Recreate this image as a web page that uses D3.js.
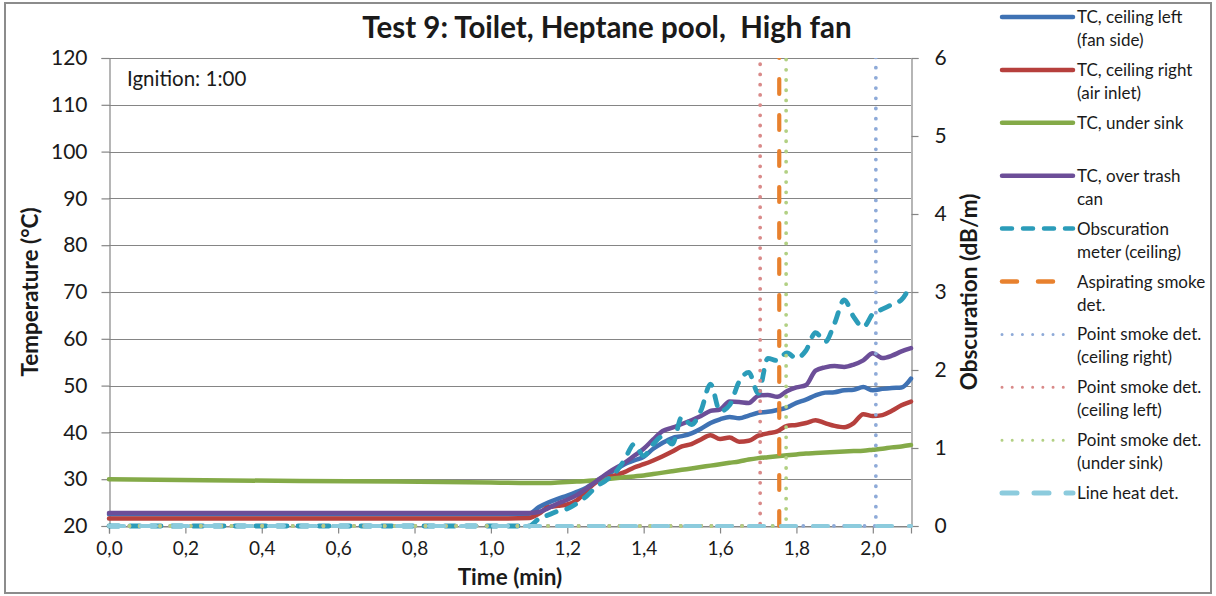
<!DOCTYPE html>
<html>
<head>
<meta charset="utf-8">
<script src="https://cdn.jsdelivr.net/npm/d3@7"></script>
<style>
  body { margin: 0; background: #ffffff; }
  text { font-family: Lato, "Open Sans", "DejaVu Sans", sans-serif; fill: #1a1a1a; }
</style>
</head>
<body>
<svg id="chart" width="1216" height="596"></svg>
<script>
// ---- Data -------------------------------------------------------------
const chartTitle = "Test 9: Toilet, Heptane pool,  High fan";
const ignitionNote = "Ignition: 1:00";

// time base (min) shared by the thermocouples and the obscuration meter
const timeMin = [0, 0.25, 0.5, 0.75, 1.0,
  1.1, 1.125, 1.15, 1.175, 1.2, 1.225, 1.25, 1.275, 1.3, 1.325,
  1.35, 1.375, 1.4, 1.425, 1.45, 1.475, 1.5, 1.525, 1.55, 1.575,
  1.6, 1.625, 1.65, 1.675, 1.7, 1.725, 1.75, 1.775, 1.8, 1.825,
  1.85, 1.875, 1.9, 1.925, 1.95, 1.975, 2.0, 2.025, 2.05, 2.075, 2.1];

// temperatures (°C)
const tcCeilingLeft = [22.5, 22.5, 22.5, 22.5, 22.5,
  22.6, 24.0, 25.0, 25.8, 26.5, 27.3, 28.2, 29.5, 30.8, 32.0,
  33.2, 34.0, 34.8, 36.5, 37.8, 38.8, 39.2, 39.8, 40.8, 42.0,
  42.8, 43.3, 43.0, 43.6, 44.2, 44.4, 44.8, 45.3, 46.3, 47.0,
  47.9, 48.5, 48.6, 49.0, 49.1, 49.7, 49.0, 49.3, 49.5, 49.6, 51.5];
const tcCeilingRight = [21.6, 21.6, 21.6, 21.6, 21.6,
  21.7, 22.6, 24.0, 24.3, 24.6, 25.5, 27.5, 29.3, 30.3, 30.8,
  31.5, 32.5, 33.2, 34.0, 34.9, 35.9, 37.0, 37.5, 38.5, 39.4,
  38.6, 38.9, 38.0, 38.2, 39.3, 39.8, 40.2, 41.4, 41.6, 42.0,
  42.6, 42.0, 41.4, 41.1, 42.0, 43.9, 43.5, 43.7, 44.6, 45.8, 46.6];
const tcUnderSink = [30.0, 29.8, 29.6, 29.5, 29.3,
  29.2, 29.2, 29.2, 29.3, 29.4, 29.5, 29.6, 29.8, 30.0, 30.2,
  30.4, 30.6, 30.8, 31.1, 31.4, 31.7, 32.0, 32.3, 32.6, 32.9,
  33.2, 33.5, 33.8, 34.2, 34.5, 34.7, 34.9, 35.1, 35.3, 35.5,
  35.6, 35.7, 35.8, 35.9, 36.0, 36.1, 36.3, 36.5, 36.8, 37.0, 37.3];
const tcOverTrash = [22.8, 22.8, 22.8, 22.8, 22.8,
  22.8, 23.0, 23.8, 24.8, 25.6, 26.6, 28.0, 29.5, 31.0, 32.3,
  33.5, 35.0, 36.5, 38.5, 40.3, 41.0, 41.8, 42.6, 43.5, 44.6,
  44.9, 46.6, 46.5, 46.3, 47.8, 48.0, 47.6, 48.8, 49.6, 50.1,
  53.2, 53.9, 54.2, 54.0, 54.5, 55.4, 56.9, 55.9, 56.4, 57.3, 58.0];

// obscuration (dB/m)
const obscurationCeiling = [0, 0, 0, 0, 0,
  0.0, 0.09, 0.14, 0.19, 0.22, 0.29, 0.38, 0.50, 0.58, 0.68,
  0.85, 1.05, 0.90, 1.05, 1.15, 1.05, 1.40, 1.30, 1.48, 1.82,
  1.47, 1.55, 1.85, 1.97, 1.70, 2.15, 2.12, 2.22, 2.15, 2.25,
  2.48, 2.36, 2.60, 2.90, 2.68, 2.55, 2.72, 2.78, 2.84, 2.90, 3.10];

// detector signals: 0 before alarm, off-scale after alarm
const aspiratingTime  = [1.755, 1.755, 2.1];
const aspiratingValue = [0, 8, 8];
const pointRightTime  = [0, 2.008, 2.008, 2.1];
const pointRightValue = [0, 0, 8, 8];
const pointLeftTime   = [0, 1.705, 1.705, 2.1];
const pointLeftValue  = [0, 0, 8, 8];
const pointSinkTime   = [0, 1.773, 1.773, 2.1];
const pointSinkValue  = [0, 0, 8, 8];
const lineHeatTime    = [0, 2.1];
const lineHeatValue   = [0, 0];

// axes
const timeTicks = [0, 0.2, 0.4, 0.6, 0.8, 1.0, 1.2, 1.4, 1.6, 1.8, 2.0];
const tempTicks = [20, 30, 40, 50, 60, 70, 80, 90, 100, 110, 120];
const obscTicks = [0, 1, 2, 3, 4, 5, 6];

// legend text, in legend order
const seriesLabels = [
  ["TC, ceiling left", "(fan side)"],
  ["TC, ceiling right", "(air inlet)"],
  ["TC, under sink", ""],
  ["TC, over trash", "can"],
  ["Obscuration", "meter (ceiling)"],
  ["Aspirating smoke", "det."],
  ["Point smoke det.", "(ceiling right)"],
  ["Point smoke det.", "(ceiling left)"],
  ["Point smoke det.", "(under sink)"],
  ["Line heat det.", ""]
];

// ---- Layout -----------------------------------------------------------
const plot = { left: 109, right: 911, top: 58, bottom: 526 };

const svg = d3.select("#chart");

const x = d3.scaleLinear().domain([0, 2.1]).range([plot.left, plot.right]);
const yT = d3.scaleLinear().domain([20, 120]).range([plot.bottom, plot.top]);
const yO = d3.scaleLinear().domain([0, 6]).range([plot.bottom, plot.top]);

const DOT = "0.01 10.2";
const styles = [
  { color: "#3f72b4", width: 4.5, dash: null, axis: "T", t: timeMin, v: tcCeilingLeft },
  { color: "#b6403d", width: 4.5, dash: null, axis: "T", t: timeMin, v: tcCeilingRight },
  { color: "#84aa48", width: 4.5, dash: null, axis: "T", t: timeMin, v: tcUnderSink },
  { color: "#6c4e98", width: 4.5, dash: null, axis: "T", t: timeMin, v: tcOverTrash },
  { color: "#2b9cb9", width: 4.8, dash: "10 11", axis: "O", t: timeMin, v: obscurationCeiling },
  { color: "#e8812e", width: 4.2, dash: "15 21", axis: "O", t: aspiratingTime, v: aspiratingValue },
  { color: "#8eaad8", width: 3.8, dash: DOT, axis: "O", t: pointRightTime, v: pointRightValue },
  { color: "#d98a89", width: 3.8, dash: DOT, axis: "O", t: pointLeftTime, v: pointLeftValue },
  { color: "#b2d083", width: 3.8, dash: DOT, axis: "O", t: pointSinkTime, v: pointSinkValue },
  { color: "#8ccbdd", width: 4.2, dash: "15 17", axis: "O", t: lineHeatTime, v: lineHeatValue }
];

// outer frame
svg.append("rect")
  .attr("x", 5).attr("y", 3).attr("width", 1206).attr("height", 590)
  .attr("fill", "#ffffff").attr("stroke", "#8c8c8c").attr("stroke-width", 2);

// horizontal gridlines
svg.append("g")
  .selectAll("line").data(tempTicks).join("line")
  .attr("x1", plot.left).attr("x2", plot.right)
  .attr("y1", d => Math.round(yT(d)) + 0.5).attr("y2", d => Math.round(yT(d)) + 0.5)
  .attr("stroke", "#858585").attr("stroke-width", 1.2);

// axes
const fmtComma = d => d3.format(".1f")(d).replace(".", ",");

const gx = svg.append("g").attr("transform", `translate(0,${plot.bottom + 0.5})`)
  .call(d3.axisBottom(x).tickValues(timeTicks).tickFormat(fmtComma).tickSizeOuter(0).tickSize(7).tickPadding(8));
const gl = svg.append("g").attr("transform", `translate(${plot.left + 0.5},0)`)
  .call(d3.axisLeft(yT).tickValues(tempTicks).tickFormat(d3.format("d")).tickSizeOuter(0).tickSize(8).tickPadding(14));
const gr = svg.append("g").attr("transform", `translate(${plot.right + 0.5},0)`)
  .call(d3.axisRight(yO).tickValues(obscTicks).tickFormat(d3.format("d")).tickSizeOuter(0).tickSize(7).tickPadding(16));

[gx, gl, gr].forEach(g => {
  g.select(".domain").attr("stroke", "#858585").attr("stroke-width", 1.2);
  g.selectAll(".tick line").attr("stroke", "#858585").attr("stroke-width", 1.2);
  g.selectAll(".tick text").attr("fill", "#1a1a1a").style("font-size", "21px")
    .style("font-family", "Lato, 'Open Sans', sans-serif");
});
gx.selectAll(".tick text").style("font-size", "19px");
gr.selectAll(".tick text").attr("x", 23);

// series
const clipId = "plot-clip";
svg.append("clipPath").attr("id", clipId)
  .append("rect")
  .attr("x", plot.left - 10).attr("y", plot.top)
  .attr("width", plot.right - plot.left + 20).attr("height", plot.bottom - plot.top + 20);

const seriesG = svg.append("g").attr("clip-path", `url(#${clipId})`);

styles.forEach(s => {
  const ys = s.axis === "T" ? yT : yO;
  const pts = s.t.map((t, i) => [t, s.v[i]]);
  const isStep = s.t !== timeMin;
  const line = d3.line()
    .x(d => x(d[0])).y(d => ys(d[1]))
    .curve(isStep ? d3.curveLinear : d3.curveMonotoneX);
  seriesG.append("path")
    .attr("d", line(pts))
    .attr("fill", "none")
    .attr("stroke", s.color)
    .attr("stroke-width", s.width)
    .attr("stroke-linecap", "round")
    .attr("stroke-linejoin", "round")
    .attr("stroke-dasharray", s.dash);
});

// title and labels
svg.append("text")
  .attr("x", 607).attr("y", 38).attr("text-anchor", "middle")
  .attr("xml:space", "preserve").style("white-space", "pre")
  .style("font-size", "29.5px").style("font-weight", "bold")
  .text(chartTitle);

svg.append("text")
  .attr("x", 127).attr("y", 86)
  .style("font-size", "20.5px")
  .text(ignitionNote);

svg.append("text")
  .attr("transform", `translate(38,${(plot.top + plot.bottom) / 2}) rotate(-90)`)
  .attr("text-anchor", "middle")
  .style("font-size", "22.5px").style("font-weight", "bold")
  .text("Temperature (°C)");

svg.append("text")
  .attr("transform", `translate(977,${(plot.top + plot.bottom) / 2}) rotate(-90)`)
  .attr("text-anchor", "middle")
  .style("font-size", "22.5px").style("font-weight", "bold")
  .text("Obscuration (dB/m)");

svg.append("text")
  .attr("x", 510).attr("y", 585).attr("text-anchor", "middle")
  .style("font-size", "22.5px").style("font-weight", "bold")
  .text("Time (min)");

// legend
const legend = svg.append("g");
const legendX1 = 1002, legendX2 = 1073, legendTextX = 1077;
const legendY0 = 17, legendStep = 52.9, lineGap = 23;

styles.forEach((s, i) => {
  const y = legendY0 + i * legendStep;
  legend.append("line")
    .attr("x1", legendX1).attr("x2", legendX2).attr("y1", y).attr("y2", y)
    .attr("stroke", s.color)
    .attr("stroke-width", s.dash === DOT ? 3 : (i === 9 ? 5 : 4.5))
    .attr("stroke-linecap", "round")
    .attr("stroke-dasharray", s.dash);
  legend.append("text")
    .attr("x", legendTextX).attr("y", y + 6)
    .style("font-size", "17px")
    .text(seriesLabels[i][0]);
  if (seriesLabels[i][1]) {
    legend.append("text")
      .attr("x", legendTextX).attr("y", y + 6 + lineGap)
      .style("font-size", "17px")
      .text(seriesLabels[i][1]);
  }
});
</script>
</body>
</html>
